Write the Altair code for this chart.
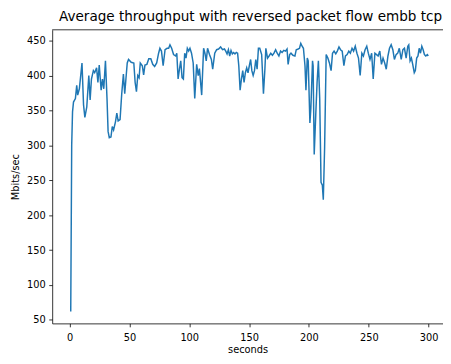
import altair as alt
import pandas as pd

seconds = [
    1, 1.8, 2.5, 3.3, 4.9, 6.0, 6.8, 8.2, 10.4, 11.7, 12.8, 14.4, 16.1, 17.2, 18.3, 19.9,
    21.0, 22.6, 23.7, 24.8, 26.4, 27.5, 28.6, 30.0, 31.3, 32.2, 33.2, 34.6, 35.7, 36.8,
    38.4, 39.5, 40.6, 42.2, 43.6, 45.0, 46.1, 47.1, 48.2, 49.3, 51.5, 53.7, 54.8, 55.9,
    57.0, 58.1, 59.1, 60.8, 61.9, 63.0, 64.6, 66.2, 67.9, 69.5, 71.1, 72.8, 74.4, 75.5,
    76.8, 78.2, 79.8, 81.5, 82.8, 83.9, 85.3, 86.9, 88.6, 89.6, 90.7, 91.8, 92.9, 94.0,
    95.1, 96.2, 97.3, 98.4, 99.5, 100.6, 101.9, 103.3, 104.6, 106.2, 107.5, 108.5, 110.4,
    112.0, 113.1, 114.2, 115.3, 116.9, 118.5, 119.6, 121.3, 122.9, 124.5, 126.2, 127.8,
    129.4, 130.5, 131.6, 132.7, 133.8, 134.9, 136.0, 137.1, 138.2, 139.3, 140.4, 141.4,
    142.5, 143.6, 144.7, 145.8, 146.9, 148.0, 149.1, 150.2, 151.3, 152.3, 153.4, 154.5,
    155.6, 156.7, 157.8, 158.9, 160.5, 162.0, 163.2, 164.0, 165.4, 166.7, 168.1, 169.5,
    170.8, 172.2, 173.5, 174.9, 176.3, 177.6, 179.0, 180.4, 181.7, 182.6, 183.9, 185.0,
    186.6, 188.3, 189.4, 191.0, 192.1, 193.2, 194.3, 195.4, 196.7, 197.5, 198.6, 199.4,
    200.8, 201.6, 203.0, 203.5, 204.4, 205.7, 206.8, 207.9, 209.0, 210.1, 211.2, 212.0,
    213.1, 214.4, 215.8, 217.1, 218.5, 219.7, 221.0, 222.4, 223.7, 225.1, 226.4, 227.8,
    229.2, 230.5, 231.9, 233.3, 234.6, 236.0, 237.3, 238.7, 240.1, 241.4, 242.8, 244.2,
    245.5, 246.9, 248.3, 249.6, 251.0, 252.4, 253.7, 255.1, 256.5, 257.8, 259.2, 260.6,
    261.9, 263.3, 264.6, 266.0, 267.3, 268.7, 270.1, 271.4, 272.8, 274.2, 275.5, 277.1,
    278.5, 279.8, 281.2, 282.6, 283.4, 284.5, 285.6, 286.7, 288.0, 288.9, 290.0, 291.1,
    292.1, 293.2, 294.3, 295.4, 296.5, 297.6, 298.9, 299.7,
]

throughput = [
    62, 300, 348, 362, 367, 386, 372, 381, 418, 358, 340, 355, 400, 365, 395, 407,
    404, 411, 390, 415, 379, 395, 381, 421, 367, 320, 311, 312, 327, 322,
    334, 346, 335, 337, 374, 402, 374, 395, 418, 423, 419, 418, 390, 377,
    400, 397, 418, 414, 401, 415, 416, 424, 424, 416, 413, 418, 432, 439,
    435, 414, 437, 439, 439, 444, 439, 430, 428, 432, 395, 409, 421, 397,
    395, 432, 425, 439, 435, 439, 432, 418, 367, 416, 400, 410, 372,
    439, 432, 421, 439, 430, 423, 409, 432, 437, 438, 441, 437,
    438, 435, 431, 437, 428, 436, 431, 433, 431, 433, 432, 414,
    379, 395, 407, 390, 404, 411, 404, 414, 423, 407, 400, 407,
    423, 409, 439, 439, 430, 374, 409, 439, 425, 428, 432, 429,
    432, 437, 432, 428, 435, 433, 436, 435, 438, 416, 430, 432,
    429, 428, 437, 438, 439, 446, 442, 439, 414, 379, 425, 421,
    332, 353, 421, 414, 287, 344, 390, 421, 367, 247, 243, 222,
    297, 430, 425, 418, 407, 432, 435, 431, 435, 441, 437, 435,
    414, 428, 430, 435, 432, 439, 435, 442, 432, 425, 400, 432,
    428, 437, 442, 432, 423, 432, 395, 432, 430, 428, 435, 416,
    425, 418, 409, 428, 439, 444, 437, 423, 430, 432, 439, 423,
    437, 439, 425, 442, 444, 421, 425, 416, 404, 407, 425, 428,
    439, 432, 442, 437, 430, 428, 430, 428,
]

x_ticks = [0, 50, 100, 150, 200, 250, 300]
y_ticks = [50, 100, 150, 200, 250, 300, 350, 400, 450]

df = pd.DataFrame({"seconds": seconds, "throughput": throughput})

FONT = "DejaVu Sans"
W, H = 398, 299

line = alt.Chart(df).mark_line(color="#1f77b4", strokeWidth=1.5, clip=True).encode(
    x=alt.X(
        "seconds:Q",
        scale=alt.Scale(domain=[-14.5, 312], nice=False, zero=False),
        axis=alt.Axis(values=x_ticks, title="seconds", format="d",
                      labelPadding=6, titlePadding=2),
    ),
    y=alt.Y(
        "throughput:Q",
        scale=alt.Scale(domain=[45, 465.5], nice=False, zero=False),
        axis=alt.Axis(values=y_ticks, title="Mbits/sec", format="d",
                      labelPadding=3.5, titlePadding=6),
    ),
)

top_spine = alt.Chart(pd.DataFrame({"k": [0]})).mark_rule(
    color="black", strokeWidth=0.8
).encode(x=alt.value(0), x2=alt.value(W + 2), y=alt.value(0))

chart = (
    alt.layer(line, top_spine)
    .properties(
        width=W,
        height=H,
        autosize=alt.AutoSizeParams(type="none"),
        padding={"left": 45, "top": 19, "right": 0, "bottom": 30},
        title=alt.TitleParams(
            "Average throughput with reversed packet flow embb tcp",
            font=FONT, fontSize=13.8, fontWeight="normal", color="black",
            anchor="middle", offset=6, dx=3,
        ),
    )
    .configure_view(stroke=None)
    .configure_axis(
        grid=False,
        domainColor="black", domainWidth=0.8,
        tickColor="black", tickWidth=0.8, tickSize=3.5,
        labelFont=FONT, labelFontSize=10, labelColor="black",
        titleFont=FONT, titleFontSize=10, titleColor="black", titleFontWeight="normal",
    )
)

chart.save("out.html", embed_options={"renderer": "svg", "actions": False})
